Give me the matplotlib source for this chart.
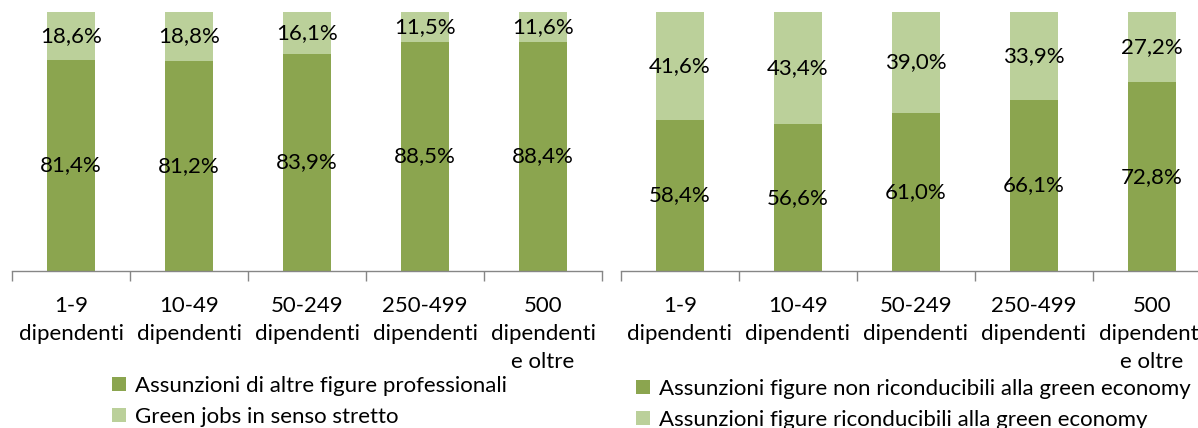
import matplotlib
matplotlib.use("Agg")
import matplotlib.pyplot as plt
from matplotlib.patches import Patch

plt.rcParams['font.family'] = ['Lato', 'DejaVu Sans']

categories = ["1-9\ndipendenti", "10-49\ndipendenti", "50-249\ndipendenti",
              "250-499\ndipendenti", "500\ndipendenti\ne oltre"]

left_other = [81.4, 81.2, 83.9, 88.5, 88.4]
left_green = [18.6, 18.8, 16.1, 11.5, 11.6]
left_labels = ["Assunzioni di altre figure professionali", "Green jobs in senso stretto"]

right_non = [58.4, 56.6, 61.0, 66.1, 72.8]
right_green = [41.6, 43.4, 39.0, 33.9, 27.2]
right_labels = ["Assunzioni figure non riconducibili alla green economy",
                "Assunzioni figure riconducibili alla green economy"]

DARK = "#8BA54F"
LIGHT = "#BBD09A"
W, H = 1198, 428
FS = 16

fig = plt.figure(figsize=(W / 100, H / 100), dpi=100)


def fmt(v):
    return f"{v:.1f}".replace(".", ",") + "%"


def panel(x0, bottom_vals, top_vals, labels, leg_x, leg_y):
    ax = fig.add_axes([x0 / W, (H - 271) / H, 590 / W, 259 / H])
    xs = list(range(len(categories)))
    ax.bar(xs, bottom_vals, width=0.41, color=DARK, edgecolor="none")
    ax.bar(xs, top_vals, bottom=bottom_vals, width=0.41, color=LIGHT, edgecolor="none")
    for x, b, t in zip(xs, bottom_vals, top_vals):
        ax.text(x, b / 2, fmt(b), ha="center", va="center", fontsize=FS, color="black")
        ax.text(x, b + t / 2, fmt(t), ha="center", va="center", fontsize=FS, color="black")
    ax.set_xlim(-0.5, len(categories) - 0.5)
    ax.set_ylim(0, 100)
    for s in ["top", "left", "right"]:
        ax.spines[s].set_visible(False)
    ax.spines["bottom"].set_color("#868686")
    ax.spines["bottom"].set_linewidth(1.0)
    ax.set_yticks([])
    ax.set_xticks(xs)
    ax.set_xticklabels(categories, fontsize=FS, linespacing=1.5, va="top")
    ax.tick_params(axis="x", which="major", length=0, pad=18)
    ax.set_xticks([i - 0.5 for i in range(len(categories) + 1)], minor=True)
    ax.tick_params(axis="x", which="minor", length=7, color="#868686", width=1.0)
    handles = [Patch(facecolor=DARK, edgecolor="none"), Patch(facecolor=LIGHT, edgecolor="none")]
    fig.legend(handles, labels, loc="upper left",
               bbox_to_anchor=(leg_x / W, 1 - leg_y / H),
               frameon=False, fontsize=FS, handlelength=0.62, handleheight=0.62,
               handletextpad=0.4, labelspacing=0.5, borderaxespad=0, borderpad=0)
    return ax


panel(12, left_other, left_green, left_labels, 112, 376)
panel(621, right_non, right_green, right_labels, 636, 379)

fig.savefig("out.png", dpi=100)
